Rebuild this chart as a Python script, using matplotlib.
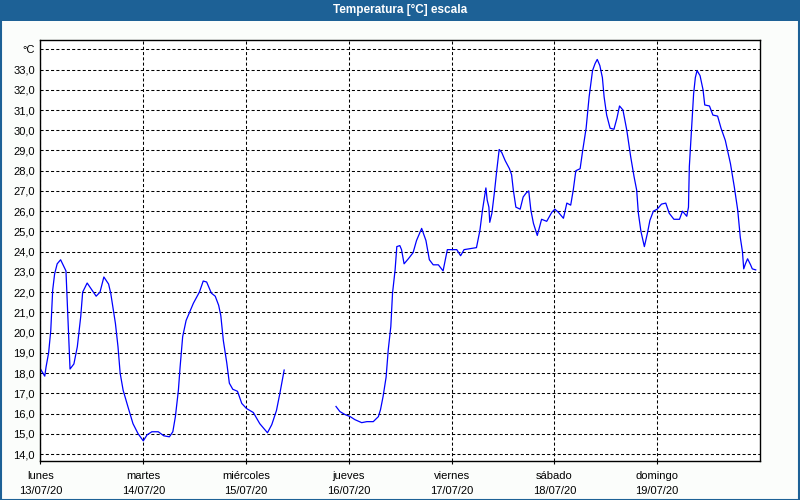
import numpy as np
import matplotlib.pyplot as plt
from matplotlib.patches import Rectangle

plt.rcParams['font.family'] = ['Liberation Sans', 'DejaVu Sans']
plt.rcParams['lines.scale_dashes'] = False

# hours since lunes 13/07/20 00:00, temperature in degC (gap = no data)
hours = [
    0, 1.0, 1.3, 1.9, 2.4, 2.85, 3.3, 3.9, 4.7, 5.95, 6.4, 6.9, 7.8, 8.6, 9.4, 9.85,
    10.9, 13.0, 13.9, 14.8, 15.9, 16.4, 17.5, 18.1, 18.6, 19.3, 20.4, 21.6, 22.8, 24.0,
    24.9, 26.0, 27.5, 28.8, 30.1, 30.9, 31.5, 32.2, 32.6, 33.2, 34.0, 34.7, 35.7, 37.1,
    38.0, 38.8, 39.9, 40.8, 41.6, 42.1, 42.7, 43.5, 44.1, 44.9, 46.0, 47.0, 48.1, 49.7,
    51.2, 53.0, 54.0, 55.1, 55.9, 56.9,
    62.0,
    69.0, 69.9, 71.1, 72.3, 73.4, 75.0, 76.2, 77.7, 78.9, 79.4, 80.0, 80.7, 81.2, 81.8,
    82.2, 82.8, 83.2, 83.9, 84.3, 84.9, 85.9, 87.0, 87.8, 89.0, 90.0, 90.8, 91.7, 92.9,
    94.0, 95.0, 97.2, 98.1, 98.9, 100.3, 101.8, 102.6, 103.2, 104.0, 104.3, 104.7, 104.9,
    105.4, 106.0, 106.5, 107.1, 107.7, 108.5, 109.5, 110.0, 110.4, 111.0, 112.0, 112.7,
    113.4, 114.0, 114.5, 115.1, 116.0, 117.0, 118.2, 119.4, 120.1, 120.9, 122.1, 122.9,
    123.8, 124.4, 125.0, 126.0, 126.6, 127.4, 128.1, 128.9, 129.5, 130.0, 130.6, 131.2,
    131.6, 132.2, 133.0, 133.9, 134.6, 135.2, 136.0, 136.9, 137.8, 138.6, 139.2, 139.6,
    140.2, 141.0, 141.7, 142.3, 143.1, 144.0, 145.0, 146.0, 146.8, 147.9, 149.2, 149.9,
    150.9, 151.3, 151.5, 152.0, 152.5, 152.9, 153.3, 154.0, 154.7, 155.1, 156.2, 157.0,
    158.1, 158.9, 159.9, 161.1, 162.0, 162.8, 163.4, 163.9, 164.2, 164.6, 165.1, 165.8,
    166.2, 167.0,
]
temps = [
    18.2, 17.85, 18.3, 19.0, 20.1, 22.1, 22.9, 23.4, 23.6, 23.05, 20.8, 18.2, 18.45, 19.3, 20.8, 22.0,
    22.45, 21.8, 22.0, 22.75, 22.4, 21.95, 20.45, 19.3, 18.0, 17.15, 16.35, 15.5, 15.0, 14.65,
    14.95, 15.1, 15.1, 14.9, 14.85, 15.1, 15.85, 17.15, 18.3, 19.8, 20.6, 20.95, 21.45, 22.0,
    22.55, 22.5, 21.95, 21.8, 21.35, 20.85, 19.6, 18.5, 17.5, 17.2, 17.1, 16.5, 16.25, 16.05,
    15.5, 15.05, 15.45, 16.15, 17.0, 18.15,
    np.nan,
    16.35, 16.1, 15.95, 15.85, 15.7, 15.55, 15.6, 15.6, 15.85, 16.2, 16.85, 17.8, 19.15, 20.3,
    21.95, 23.1, 24.25, 24.3, 24.1, 23.4, 23.65, 23.95, 24.55, 25.15, 24.55, 23.6, 23.35, 23.35,
    23.05, 24.1, 24.1, 23.8, 24.1, 24.15, 24.2, 25.05, 26.05, 27.15, 26.55, 26.2, 25.45,
    25.9, 26.95, 27.95, 29.05, 28.9, 28.5, 28.1, 27.8, 27.05, 26.2, 26.1, 26.7,
    26.9, 27.0, 26.05, 25.4, 24.8, 25.6, 25.5, 25.95, 26.1, 25.95, 25.65, 26.4,
    26.3, 27.05, 28.0, 28.1, 29.0, 30.1, 31.65, 32.95, 33.3, 33.5, 33.2, 32.6,
    31.65, 30.75, 30.1, 30.05, 30.6, 31.2, 31.0, 30.0, 28.7, 27.7, 27.05, 25.9,
    25.0, 24.25, 24.9, 25.55, 26.0, 26.1, 26.35, 26.4, 25.9, 25.6, 25.6, 26.0,
    25.75, 26.2, 28.2, 30.0, 31.8, 32.6, 32.95, 32.7, 32.0, 31.25, 31.2, 30.75,
    30.7, 30.1, 29.5, 28.35, 27.2, 26.05, 24.7, 24.0, 23.15, 23.4, 23.65, 23.35,
    23.15, 23.1,
]

day_names = ['lunes', 'martes', 'miércoles', 'jueves', 'viernes', 'sábado', 'domingo']
day_dates = ['13/07/20', '14/07/20', '15/07/20', '16/07/20', '17/07/20', '18/07/20', '19/07/20']
y_ticks = list(range(14, 35))
y_labels = ['%d,0' % v for v in range(14, 34)] + ['°C']

blue_bar = '#1d6196'

fig = plt.figure(figsize=(8, 5), dpi=100, facecolor='#fbfdfb')
# title bar + frame
fig.patches.append(Rectangle((0, 0.959), 1, 0.041, transform=fig.transFigure,
                             facecolor=blue_bar, edgecolor='none', zorder=0))
fig.patches.append(Rectangle((0.0008, 0.001), 0.9984, 0.998, transform=fig.transFigure,
                             facecolor='none', edgecolor=blue_bar, linewidth=1.5, zorder=5))
fig.text(0.5, 0.98, 'Temperatura [°C] escala', color='white', fontsize=8.5,
         fontweight='bold', ha='center', va='center')

ax = fig.add_axes([0.0506, 0.0786, 0.8994, 0.8414])
ax.set_facecolor('white')
ax.plot(hours, temps, color='#0000ff', linewidth=0.9)

ax.set_xlim(0, 168)
ax.set_ylim(13.67, 34.46)
ax.set_xticks([24 * i for i in range(7)])
ax.set_xticklabels([n + '\n' + d for n, d in zip(day_names, day_dates)],
                   fontsize=8, linespacing=1.55)
ax.set_yticks(y_ticks)
ax.set_yticklabels(y_labels, fontsize=8)
ax.tick_params(axis='y', length=0, pad=4)
ax.tick_params(axis='x', length=2.5, width=0.8, pad=5)

ax.grid(True, color='black', linestyle=(0, (2.2, 1.6)), linewidth=0.75)
for s in ax.spines.values():
    s.set_color('black')
    s.set_linewidth(1.0)

fig.savefig('out.png', dpi=100, facecolor=fig.get_facecolor())
